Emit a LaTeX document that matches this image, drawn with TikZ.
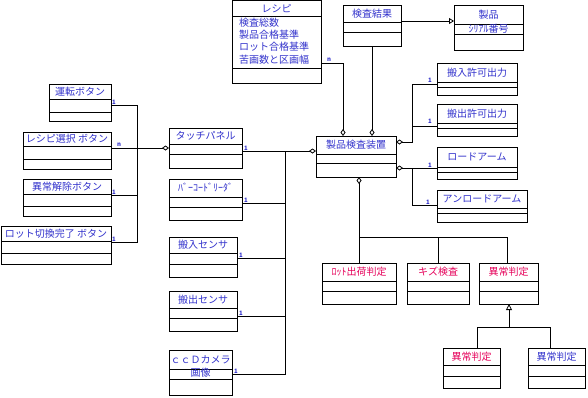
\documentclass[tikz,border=0pt]{standalone}
\usepackage{fontspec}
\setmainfont{Noto Sans CJK JP}
\usetikzlibrary{arrows.meta,calc}
\definecolor{txtblue}{RGB}{51,51,204}
\definecolor{txtred}{RGB}{230,0,90}
\tikzset{
  box/.style={draw=black, line width=0.9pt, inner sep=0pt, outer sep=0pt, anchor=north west},
  ttl/.style={font=\fontsize{10}{11}\selectfont, text=txtblue, inner sep=0pt},
  ttlred/.style={ttl, text=txtred},
  attr/.style={font=\fontsize{10}{11}\selectfont, text=txtblue, inner sep=0pt, anchor=west},
  ln/.style={line width=0.9pt},
  aggend/.style={ln, -{Diamond[open,length=7pt,width=5pt,line width=0.8pt]}},
  genend/.style={ln, -{Triangle[open,length=6pt,width=6pt,line width=0.8pt]}},
  mult/.style={font=\fontsize{6}{6}\selectfont\bfseries, text=txtblue, inner sep=0pt},
}
\newcommand{\umlcls}[9]{%
  \node[box, minimum width={(#4-#2)*1pt}, minimum height={(#5-#3)*1pt}] (#1) at (#2,#3) {};
  \draw[ln] (#2,#6) -- (#4,#6) (#2,#7) -- (#4,#7);
  \node[#9] (#1-t) at ({(#2+#4)/2},{(#3+#6)/2}) {#8};
}
\begin{document}
\begin{tikzpicture}[x=1pt,y=-1pt]
\useasboundingbox (0,0) rectangle (588,397);
\fill[white] (0,0) rectangle (588,397);
% classes
\umlcls{recipe}{232}{0.5}{321}{83}{16}{68}{レシピ}{ttl}
\node[attr] (r1) at (239,23) {検査総数};
\node[attr] (r2) at (239,35) {製品合格基準};
\node[attr] (r3) at (239,47) {ロット合格基準};
\node[attr] (r4) at (239,59.5) {苦画数と区画幅};
\umlcls{kekka}{343}{5}{401}{46}{22}{32}{検査結果}{ttl}
\umlcls{seihin}{454}{5}{523}{50}{24}{34}{製品}{ttl}
\node[ttl] (seihin-a) at (488.5,28.5) {ｼﾘｱﾙ番号};
\umlcls{device}{316}{136}{396}{177}{154}{163}{製品検査装置}{ttl}
\umlcls{inok}{437}{63}{517}{95}{82}{87}{搬入許可出力}{ttl}
\umlcls{outok}{437}{104}{517}{136}{123}{128}{搬出許可出力}{ttl}
\umlcls{load}{437}{147}{517}{179}{167}{172}{ロードアーム}{ttl}
\umlcls{unload}{437}{190}{527}{222}{208}{213}{アンロードアーム}{ttl}
\umlcls{lot}{322}{263}{396}{304}{281}{291}{ﾛｯﾄ出荷判定}{ttlred}
\umlcls{kizu}{407}{263}{469}{304}{281}{291}{キズ検査}{ttlred}
\umlcls{ijou}{479}{263}{538}{304}{281}{291}{異常判定}{ttlred}
\umlcls{ijoua}{443}{348}{500}{388}{365}{376}{異常判定}{ttlred}
\umlcls{ijoub}{528}{348}{585}{388}{365}{376}{異常判定}{ttl}
\umlcls{unten}{49}{84}{111}{121}{99}{112}{運転ボタン}{ttl}
\umlcls{recsel}{23}{132}{111}{169}{146}{159}{レシピ選択 ボタン}{ttl}
\umlcls{kaijo}{23}{179}{111}{216}{194}{206}{異常解除ボタン}{ttl}
\umlcls{lotkiri}{1}{226}{111}{264}{241}{253}{ロット切換完了 ボタン}{ttl}
\umlcls{touch}{169}{128}{242}{168}{144}{154}{タッチパネル}{ttl}
\umlcls{barcode}{169}{179}{242}{220}{197}{207}{ﾊﾞｰｺｰﾄﾞﾘｰﾀﾞ}{ttl}
\umlcls{insens}{169}{237}{237}{277}{253}{264}{搬入センサ}{ttl}
\umlcls{outsens}{169}{291}{237}{331}{308}{318}{搬出センサ}{ttl}
\umlcls{ccd}{169}{350}{232}{395}{369}{379}{ｃｃＤカメラ}{ttl}
\node[ttl] (ccd-a) at (200.5,373) {画像};
% bus coordinates
\coordinate (lbusT) at (137,105);
\coordinate (lbusB) at (137,242);
\coordinate (mbusT) at (285,151);
\coordinate (mbusB) at (285,374);
\coordinate (rbusA) at (412,142);
\coordinate (rbusB) at (412,168);
\coordinate (bbus) at (507,237);
\coordinate (gbus) at (509,327);
% connectors
\draw[aggend] (recipe.east |- 0,63) -| (device.north -| 343,0);
\node[mult] at (329,60) {n};
\draw[aggend] (kekka.south) -- (kekka.south |- device.north);
\draw[ln,-{Triangle[open,length=5pt,width=6pt,line width=0.8pt]}] (kekka.east |- 0,21) -- (seihin.west |- 0,21);
% left buttons
\draw[aggend] (recsel.east |- 0,148) -- (touch.west |- 0,148);
\node[mult] at (119,145) {n};
\draw[ln] (unten.east |- 0,105) -- (lbusT) -- (lbusB) -- (lotkiri.east |- 0,242);
\draw[ln] (kaijo.east |- 0,195) -- (lbusT |- 0,195);
\node[mult] at (114,102) {1};
\node[mult] at (114,192) {1};
\node[mult] at (114,239) {1};
% touch panel bus
\draw[aggend] (touch.east |- 0,151) -- (device.west |- 0,151);
\draw[ln] (mbusT) -- (mbusB) -- (ccd.east |- 0,374);
\draw[ln] (barcode.east |- 0,203) -- (mbusT |- 0,203);
\draw[ln] (insens.east |- 0,258) -- (mbusT |- 0,258);
\draw[ln] (outsens.east |- 0,316) -- (mbusT |- 0,316);
\node[mult] at (246,148) {1};
\node[mult] at (246,200) {1};
\node[mult] at (241,255) {1};
\node[mult] at (241,313) {1};
\node[mult] at (236,371) {1};
% right side
\draw[aggend] (inok.west |- 0,84) -| (rbusA) -- (device.east |- rbusA);
\draw[ln] (outok.west |- 0,126) -- (rbusA |- 0,126);
\draw[aggend] (unload.west |- 0,205) -| (rbusB) -- (device.east |- rbusB);
\draw[ln] (load.west |- 0,168) -- (rbusB);
\node[mult] at (430,80) {1};
\node[mult] at (430,121) {1};
\node[mult] at (430,165) {1};
\node[mult] at (428,202) {1};
% bottom
\draw[aggend] (lot.north) -- (lot.north |- device.south);
\draw[ln] (lot.north |- bbus) -- (bbus) -- (bbus |- ijou.north);
\draw[ln] (kizu.north) -- (kizu.north |- bbus);
% generalization
\draw[genend] (ijoua.north -| 477,0) |- (gbus) -- (gbus |- ijou.south);
\draw[ln] (ijoub.north -| 550,0) |- (gbus);
\end{tikzpicture}
\end{document}
